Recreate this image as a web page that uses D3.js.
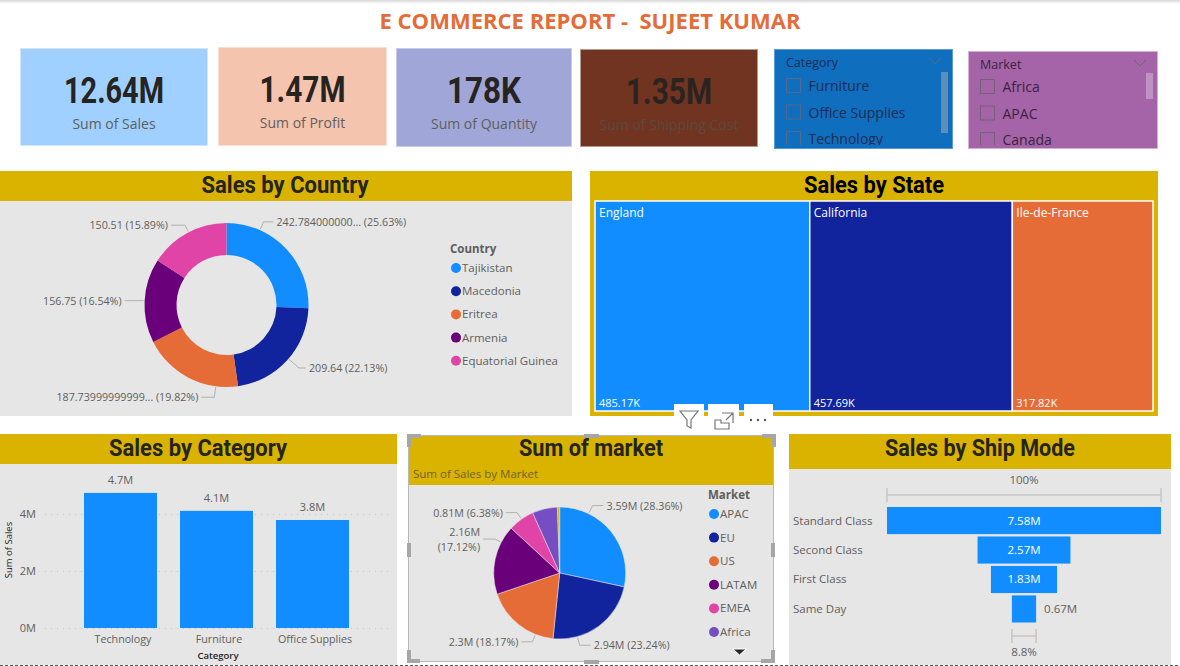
<!DOCTYPE html>
<html>
  <head>
    <meta http-equiv="content-type" content="text/html; charset=utf-8" />
    <title>E Commerce Report</title>
    <script type="text/javascript" src="https://d3js.org/d3.v7.min.js"></script>
    <style type="text/css">
      html, body { margin: 0; padding: 0; background: #fff; overflow: hidden; }
      svg { display: block; }
      text { font-family: "Open Sans", sans-serif; }
      .din { font-family: Roboto, sans-serif; font-weight: 700; }
    </style>
  </head>
  <body>
    <script type="text/javascript">
// data
      var countries = ["Tajikistan", "Macedonia", "Eritrea", "Armenia", "Equatorial Guinea"];
      var countrySales = [242.784, 209.64, 187.74, 156.75, 150.51];
      var countryLabels = ["242.784000000... (25.63%)", "209.64 (22.13%)", "187.73999999999... (19.82%)", "156.75 (16.54%)", "150.51 (15.89%)"];

      var states = ["England", "California", "Ile-de-France"];
      var stateSales = [485.17, 457.69, 317.82];
      var stateLabels = ["485.17K", "457.69K", "317.82K"];

      var categories = ["Technology", "Furniture", "Office Supplies"];
      var categorySales = [4.74, 4.11, 3.79];
      var categoryLabels = ["4.7M", "4.1M", "3.8M"];
      var salesTicks = [0, 2, 4];

      var markets = ["APAC", "EU", "US", "LATAM", "EMEA", "Africa", "Canada"];
      var marketSales = [3.59, 2.94, 2.3, 2.16, 0.81, 0.78, 0.07];
      var marketLabels = [["3.59M (28.36%)"], ["2.94M (23.24%)"], ["2.3M (18.17%)"], ["2.16M", "(17.12%)"], ["0.81M (6.38%)"]];

      var shipModes = ["Standard Class", "Second Class", "First Class", "Same Day"];
      var shipSales = [7.58, 2.57, 1.83, 0.67];
      var shipLabels = ["7.58M", "2.57M", "1.83M", "0.67M"];

      var cardValues = ["12.64M", "1.47M", "178K", "1.35M"];
      var cardNames = ["Sum of Sales", "Sum of Profit", "Sum of Quantity", "Sum of Shipping Cost"];
      var categoryItems = ["Furniture", "Office Supplies", "Technology"];
      var marketItems = ["Africa", "APAC", "Canada"];

      var w = 1180, h = 666;
      var blue = "#118DFF", navy = "#12239E", orange = "#E66C37", purple = "#6B007B",
          pink = "#E044A7", violet = "#744EC2", gold = "#D9B300", panel = "#E6E6E6",
          grey = "#605E5C", dark = "#252423";
      var palette = [blue, navy, orange, purple, pink, violet, gold];

      var svg = d3.select("body").append("svg").attr("width", w).attr("height", h);
      var defs = svg.append("defs");

      function rect(g, x, y, width, height, fill) {
        return g.append("rect").attr("x", x).attr("y", y).attr("width", width).attr("height", height).attr("fill", fill);
      }
      function label(g, x, y, str, size, fill, anchor) {
        return g.append("text").attr("x", x).attr("y", y).attr("font-size", size).attr("fill", fill)
          .attr("text-anchor", anchor || "start").text(str);
      }
      function heading(x, y, str, length, fill) {
        return label(svg, x, y, str, 23, fill || dark, "middle").attr("class", "din")
          .attr("textLength", length).attr("lengthAdjust", "spacingAndGlyphs");
      }

// page top
      var shadow = defs.append("linearGradient").attr("id", "shadow").attr("x2", 0).attr("y2", 1);
      shadow.append("stop").attr("offset", 0).attr("stop-color", "#d8d8d8");
      shadow.append("stop").attr("offset", 1).attr("stop-color", "#ffffff");
      rect(svg, 0, 0, w, 4, "url(#shadow)");
      label(svg, 590, 29, "E COMMERCE REPORT -  SUJEET KUMAR", 22, orange, "middle")
        .attr("font-weight", 700).style("white-space", "pre")
        .attr("textLength", 421).attr("lengthAdjust", "spacingAndGlyphs");

// cards
      var cardBoxes = [
        {x: 20, y: 48, w: 188, h: 98, fill: "#9FD0FF", line: "#CFE7FF", text: dark, sub: grey, len: 100, dy: 0},
        {x: 218, y: 47, w: 169, h: 99, fill: "#F5C4AF", line: "#FADFD3", text: dark, sub: grey, len: 86, dy: 0},
        {x: 396, y: 48, w: 176, h: 99, fill: "#A0A7D8", line: "#C8CCE9", text: dark, sub: grey, len: 74, dy: 0},
        {x: 580, y: 49, w: 178, h: 98, fill: "#703420", line: "#B49A8F", text: "#2B2320", sub: "#5B4A42", len: 86, dy: 0}
      ];
      var cards = svg.selectAll("g.card").data(cardBoxes).enter().append("g").attr("class", "card");
      cards.append("rect")
        .attr("x", function(d) { return d.x + 0.5; })
        .attr("y", function(d) { return d.y + 0.5; })
        .attr("width", function(d) { return d.w - 1; })
        .attr("height", function(d) { return d.h - 1; })
        .attr("fill", function(d) { return d.fill; })
        .attr("stroke", function(d) { return d.line; });
      cards.append("text").attr("class", "din")
        .attr("x", function(d) { return d.x + d.w / 2; })
        .attr("y", function(d) { return d.y + 55 + d.dy; })
        .attr("text-anchor", "middle").attr("font-size", 36)
        .attr("textLength", function(d) { return d.len; })
        .attr("lengthAdjust", "spacingAndGlyphs")
        .attr("fill", function(d) { return d.text; })
        .text(function(d, i) { return cardValues[i]; });
      cards.append("text")
        .attr("x", function(d) { return d.x + d.w / 2; })
        .attr("y", function(d) { return d.y + 81 + d.dy; })
        .attr("text-anchor", "middle").attr("font-size", 14)
        .attr("fill", function(d) { return d.sub; })
        .text(function(d, i) { return cardNames[i]; });

// slicers
      function slicer(id, x, y, width, height, fill, line, title, items, barFill, barY, barH, ink, boxLine, rowShift) {
        var g = svg.append("g");
        rect(g, x + 0.5, y + 0.5, width - 1, height - 1, fill).attr("stroke", line);
        defs.append("clipPath").attr("id", id).append("rect")
          .attr("x", x).attr("y", y).attr("width", width).attr("height", height - 4);
        label(g, x + 12, y + 18, title, 12.5, ink);
        g.append("path")
          .attr("d", "M" + (x + width - 24) + "," + (y + 9) + "l6,6l6,-6")
          .attr("fill", "none").attr("stroke", boxLine);
        rect(g, x + width - 12, barY, 7, barH, barFill);
        var rows = g.append("g").attr("clip-path", "url(#" + id + ")")
          .selectAll("g").data(items).enter().append("g");
        rows.append("rect")
          .attr("x", x + 12.5)
          .attr("y", function(d, i) { return y + 29.5 + rowShift + i * 26.5; })
          .attr("width", 14).attr("height", 14)
          .attr("fill", "none").attr("stroke", boxLine);
        rows.append("text")
          .attr("x", x + 34.5)
          .attr("y", function(d, i) { return y + 42 + rowShift + i * 26.5; })
          .attr("font-size", 14).attr("fill", ink)
          .text(function(d) { return d; });
      }
      slicer("clipCategory", 774, 49, 179, 100, "#0F6EBE", "#5A9BD5", "Category", categoryItems, "#5C8FBA", 72, 61, "#1E2C52", "#53698A", 0);
      slicer("clipMarket", 968, 51, 190, 98, "#A564A8", "#D3B3D5", "Market", marketItems, "#BE93C1", 73, 26, "#3A2340", "#75607A", -1);

// panels
      rect(svg, 0, 171, 572, 30, gold);
      rect(svg, 0, 201, 572, 215, panel);
      heading(285, 193, "Sales by Country", 167);

      rect(svg, 590, 171, 568, 245, gold);
      heading(874, 193, "Sales by State", 140, "#000");

      rect(svg, 0, 434, 397, 30, gold);
      rect(svg, 0, 464, 397, 201, panel);
      heading(198, 456, "Sales by Category", 178);

      rect(svg, 409, 436, 364, 49, gold);
      rect(svg, 409, 485, 364, 176, panel);
      heading(591, 456, "Sum of market", 144);
      label(svg, 413, 478, "Sum of Sales by Market", 11.5, "#6E6230");

      rect(svg, 789, 434, 382, 35, gold);
      rect(svg, 789, 469, 382, 196, panel);
      heading(980, 456, "Sales by Ship Mode", 190);

// pie and donut share the same leader drawing
      function polar(cx, cy, r, deg) {
        var a = deg * Math.PI / 180;
        return [cx + r * Math.sin(a), cy - r * Math.cos(a)];
      }
      function leaders(cx, cy, r, spots, texts) {
        spots.forEach(function(s, i) {
          var a = polar(cx, cy, r + 1, s.angle),
              b = polar(cx, cy, r + 1 + s.reach, s.angle),
              dir = s.angle < 180 ? 1 : -1,
              endX = b[0] + dir * s.run;
          svg.append("polyline")
            .attr("points", [a, b, [endX, b[1]]].join(" "))
            .attr("fill", "none").attr("stroke", "#B3B0AD");
          var lines = [].concat(texts[i]);
          lines.forEach(function(str, j) {
            var y = lines.length > 1 ? b[1] - 3 + j * 15 : b[1] + 4;
            label(svg, endX + dir * 3, y, str, 10.7, grey, dir > 0 ? "start" : "end");
          });
        });
      }
      function legend(x, y, title, names, step) {
        label(svg, x, y + 4, title, 11.5, grey).attr("font-weight", 700);
        names.forEach(function(n, i) {
          var row = y + 19 + i * step;
          svg.append("circle").attr("cx", x + 6).attr("cy", row).attr("r", 5).attr("fill", palette[i]);
          label(svg, x + 12, row + 4, n, 11.5, grey);
        });
      }

      var pie = d3.pie().sort(null).value(function(d) { return d; });

// donut
      var donutArc = d3.arc().innerRadius(50).outerRadius(82);
      svg.append("g").attr("transform", "translate(226.5,305)")
        .selectAll("path").data(pie(countrySales)).enter().append("path")
        .attr("d", donutArc)
        .attr("fill", function(d, i) { return palette[i]; });
      leaders(226.5, 305, 82, [
        {angle: 24, reach: 8, run: 10},
        {angle: 131, reach: 13, run: 7},
        {angle: 187.5, reach: 10, run: 13},
        {angle: 273, reach: 0, run: 19},
        {angle: 332.5, reach: 7, run: 14}
      ], countryLabels);
      legend(450, 249, "Country", countries, 23.2);

// treemap
      var root = d3.hierarchy({children: stateSales.map(function(v, i) { return {name: states[i], value: v, text: stateLabels[i]}; })})
        .sum(function(d) { return d.value; });
      d3.treemap().tile(d3.treemapDice).size([558, 210])(root);
      var tiles = svg.append("g").attr("transform", "translate(595,201)")
        .selectAll("g").data(root.leaves()).enter().append("g")
        .attr("transform", function(d) { return "translate(" + d.x0 + "," + d.y0 + ")"; });
      tiles.append("rect")
        .attr("width", function(d) { return d.x1 - d.x0; })
        .attr("height", function(d) { return d.y1 - d.y0; })
        .attr("fill", function(d, i) { return palette[i]; })
        .attr("stroke", "#fff").attr("stroke-width", 1.5);
      tiles.append("text").attr("x", 4).attr("y", 16).attr("font-size", 12).attr("fill", "#fff")
        .text(function(d) { return d.data.name; });
      tiles.append("text").attr("x", 4).attr("y", 206).attr("font-size", 11).attr("fill", "#fff")
        .text(function(d) { return d.data.text; });

// column chart
      var xBand = d3.scaleBand().domain(categories).range([72.5, 360.5]).paddingInner(0.24).paddingOuter(0.12);
      var yLin = d3.scaleLinear().domain([0, 4]).range([628, 514]);
      var yAxis = svg.append("g").attr("transform", "translate(45,0)")
        .call(d3.axisLeft(yLin).tickValues(salesTicks).tickSize(-347).tickFormat(function(d) { return d + "M"; }));
      yAxis.select(".domain").remove();
      yAxis.selectAll("line").attr("stroke", "#C8C6C4").attr("stroke-dasharray", "1 5");
      yAxis.selectAll("text").attr("x", -9).attr("font-size", 11).attr("fill", grey);
      svg.selectAll("rect.col").data(categorySales).enter().append("rect").attr("class", "col")
        .attr("x", function(d, i) { return xBand(categories[i]); })
        .attr("y", function(d) { return yLin(d); })
        .attr("width", xBand.bandwidth())
        .attr("height", function(d) { return yLin(0) - yLin(d); })
        .attr("fill", blue);
      svg.selectAll("text.collabel").data(categoryLabels).enter().append("text").attr("class", "collabel")
        .attr("x", function(d, i) { return xBand(categories[i]) + xBand.bandwidth() / 2; })
        .attr("y", function(d, i) { return yLin(categorySales[i]) - 9; })
        .attr("text-anchor", "middle").attr("font-size", 11).attr("fill", grey)
        .text(function(d) { return d; });
      var xAxis = svg.append("g").attr("transform", "translate(2.5,628)")
        .call(d3.axisBottom(xBand).tickSize(0));
      xAxis.select(".domain").remove();
      xAxis.selectAll("text").attr("y", 7).attr("font-size", 10.7).attr("fill", grey);
      label(svg, 218, 659, "Category", 9.5, dark, "middle").attr("font-weight", 600);
      label(svg, 0, 0, "Sum of Sales", 9.5, dark, "middle")
        .attr("transform", "translate(12,550) rotate(-90)");

// pie
      var pieArc = d3.arc().innerRadius(0).outerRadius(66);
      svg.append("g").attr("transform", "translate(559.7,573)")
        .selectAll("path").data(pie(marketSales)).enter().append("path")
        .attr("d", pieArc)
        .attr("fill", function(d, i) { return palette[i]; })
        .attr("stroke", panel).attr("stroke-width", 0.5);
      leaders(559.7, 573, 66, [
        {angle: 26, reach: 8, run: 11},
        {angle: 164.5, reach: 8, run: 11},
        {angle: 201.6, reach: 7, run: 11},
        {angle: 297.7, reach: 6, run: 12},
        {angle: 324.7, reach: 7, run: 11}
      ], marketLabels);
      legend(708, 495, "Market", markets.slice(0, 6), 23.6);
      svg.append("path").attr("d", "M733,649h13l-6.5,6z").attr("fill", "#252423").attr("stroke", "#fff");

// funnel
      var xShip = d3.scaleLinear().domain([0, shipSales[0]]).range([0, 274]);
      var yShip = d3.scaleBand().domain(shipModes).range([507, 622.5]).paddingInner(0.08);
      var midShip = 1024;
      svg.selectAll("rect.ship").data(shipSales).enter().append("rect").attr("class", "ship")
        .attr("x", function(d) { return midShip - xShip(d) / 2; })
        .attr("y", function(d, i) { return yShip(shipModes[i]); })
        .attr("width", function(d) { return xShip(d); })
        .attr("height", yShip.bandwidth())
        .attr("fill", blue);
      shipModes.forEach(function(m, i) {
        var y = yShip(m) + yShip.bandwidth() / 2 + 4;
        label(svg, 793, y, m, 11.5, grey);
        if (i < 3) label(svg, midShip, y, shipLabels[i], 11.5, "#fff", "middle");
        else label(svg, midShip + xShip(shipSales[i]) / 2 + 8, y, shipLabels[i], 11.5, grey);
      });
      function bracket(half, y) {
        svg.append("path")
          .attr("d", "M" + (midShip - half) + "," + (y - 7) + "v14M" + (midShip - half) + "," + y + "H" + (midShip + half) +
            "M" + (midShip + half) + "," + (y - 7) + "v14")
          .attr("fill", "none").attr("stroke", "#C8C6C4").attr("stroke-width", 1.5);
      }
      bracket(xShip(shipSales[0]) / 2, 495);
      bracket(xShip(shipSales[3]) / 2, 636);
      label(svg, midShip, 484, "100%", 11.5, grey, "middle");
      label(svg, midShip, 656, "8.8%", 11.5, grey, "middle");

// report page edge
      svg.append("line").attr("x1", 0).attr("x2", w).attr("y1", 665.5).attr("y2", 665.5)
        .attr("stroke", "#555").attr("stroke-dasharray", "3 2");

// selected visual frame and its toolbar
      var frame = svg.append("g").attr("fill", "none").attr("stroke", "#B8B8B8");
      frame.append("rect").attr("x", 408.5).attr("y", 435.5).attr("width", 365).attr("height", 226);
      var handles = frame.append("g").attr("stroke", "#A6A6A6").attr("stroke-width", 4);
      handles.append("path").attr("d", "M409,447v-11h12M762,436h12v11M773,650v11h-12M420,661h-11v-11");
      handles.append("path").attr("d", "M584,436h15M584,662h15M409,543v14M773,543v14");

      rect(svg, 674, 404, 30, 24, "#fff");
      rect(svg, 708, 404, 31, 24, "#fff");
      rect(svg, 744, 404, 29, 24, "#fff");
      var icons = svg.append("g").attr("fill", "none").attr("stroke", "#777").attr("stroke-width", 1.2);
      icons.append("path").attr("d", "M680,411h18l-7,9v8l-4,-2v-6z");
      icons.append("path").attr("d", "M715,420v9h14v-6h-8v-3zM722,413h11v10M733,413l-7,7");
      svg.selectAll("circle.dot").data([751, 758, 765]).enter().append("circle").attr("class", "dot")
        .attr("cx", function(d) { return d; }).attr("cy", 420).attr("r", 1.2).attr("fill", "#555");
    </script>
  </body>
</html>
